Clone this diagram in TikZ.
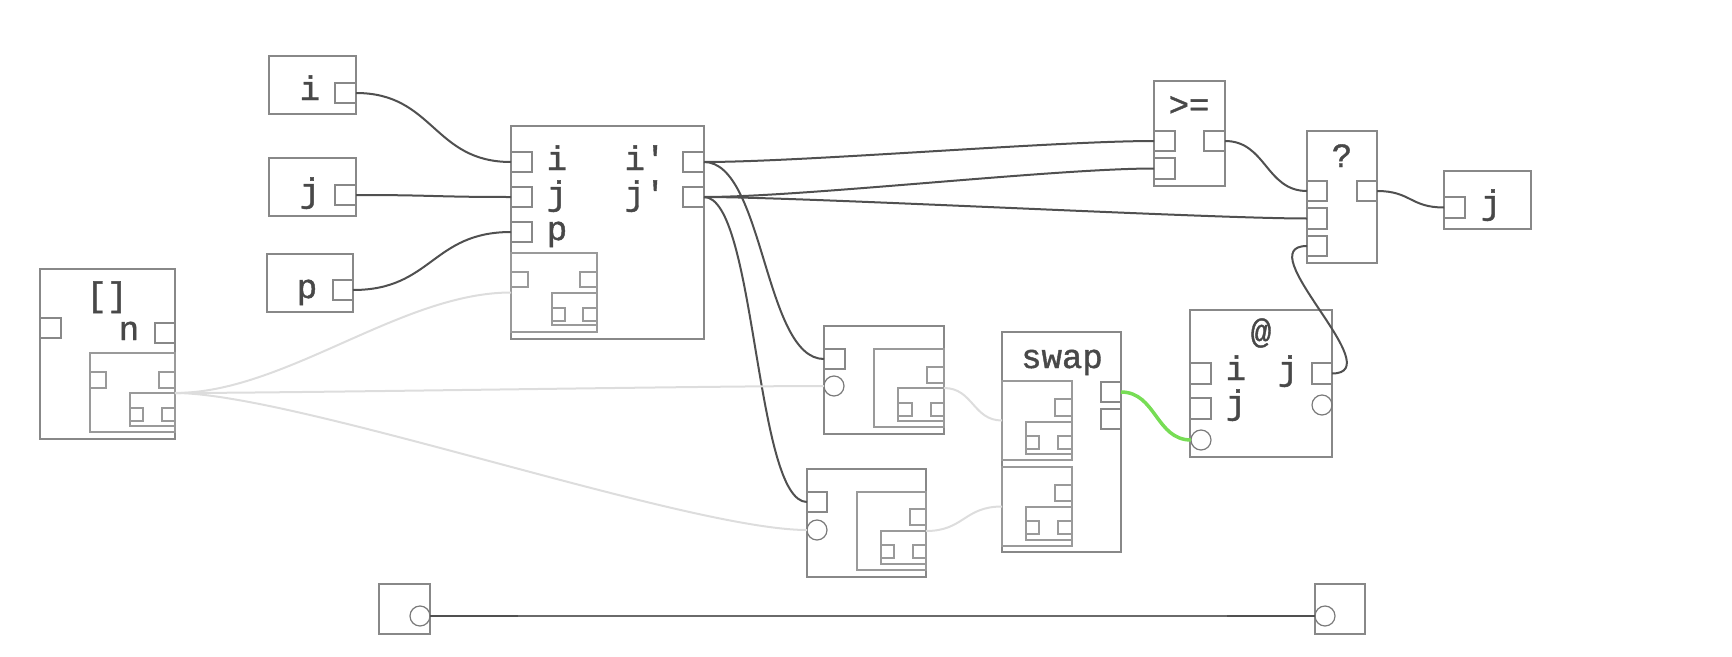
\documentclass[tikz,border=0pt]{standalone}
\usepackage{fontspec}
\setmonofont[FakeBold=1.2]{Liberation Mono}
\usetikzlibrary{calc}
\definecolor{edgec}{HTML}{888888}
\definecolor{inedgec}{HTML}{9A9A9A}
\definecolor{wirec}{HTML}{505050}
\definecolor{lwirec}{HTML}{DDDDDD}
\definecolor{gwirec}{HTML}{77DD55}
\definecolor{txtc}{HTML}{484848}
\tikzset{
 box/.style={draw=edgec, line width=1.5pt},
 inbox/.style={draw=inedgec, line width=1.3pt},
 port/.style={draw=edgec, line width=1.3pt},
 sport/.style={draw=inedgec, line width=1.1pt},
 circ/.style={draw=edgec!90!black, line width=1.2pt, circle, minimum size=20pt, inner sep=0, outer sep=0},
 wire/.style={draw=wirec, line width=2pt},
 lwire/.style={draw=lwirec, line width=2pt},
 gwire/.style={draw=gwirec, line width=3.5pt},
 lab/.style={text=txtc, font=\ttfamily\fontsize{34}{40}\selectfont, anchor=base, inner sep=0},
}
\newcommand\bx[6][]{\node[#1, inner sep=0, outer sep=0, anchor=north west, minimum width={(#5-#3)*1pt}, minimum height={(#6-#4)*1pt}] (#2) at (#3,#4) {};}
\begin{document}
\begin{tikzpicture}[x=1pt,y=-1pt]
\useasboundingbox (0,0) rectangle (1732,656);
% input boxes
\bx[box]{ibox}{269}{56}{356}{114}
\bx[port]{ip}{335}{83}{356}{103}
\node[lab] (ti) at (310,100) {i};
\bx[box]{jbox}{269}{158}{356}{216}
\bx[port]{jp}{335}{185}{356}{205}
\node[lab] (tj) at (310,202) {j};
\bx[box]{pbox}{267}{254}{353}{312}
\bx[port]{pp}{333}{280}{353}{300}
\node[lab] (tp) at (307,298) {p};
% [] box
\bx[box]{arr}{40}{269}{175}{439}
\bx[port]{arrL}{40}{318}{61}{338}
\bx[port]{arrR}{155}{323}{175}{343}
\node[lab] (tarr) at (107,306) {[]};
\node[lab] (tn) at (129,340) {n};
\bx[inbox]{arrin}{90}{353}{175}{432}
\bx[sport]{arrinL}{90}{372}{106}{388}
\bx[sport]{arrinR}{159}{372}{175}{388}
\bx[inbox]{arrii}{130}{393}{175}{426}
\bx[sport]{arriiL}{130}{408}{143}{421}
\bx[sport]{arriiR}{162}{408}{175}{421}
% main box
\bx[box]{main}{511}{126}{704}{339}
\bx[port]{mi}{511}{152}{532}{172}
\bx[port]{mj}{511}{187}{532}{207}
\bx[port]{mp}{511}{222}{532}{242}
\bx[port]{mio}{683}{152}{704}{172}
\bx[port]{mjo}{683}{187}{704}{207}
\node[lab] (tmi) at (557,170) {i};
\node[lab] (tmj) at (557,205) {j};
\node[lab] (tmp) at (557,240) {p};
\node[lab] (tmio) at (645,170) {i'};
\node[lab] (tmjo) at (645,205) {j'};
\bx[inbox]{min}{511}{253}{597}{332}
\bx[sport]{minL}{511}{272}{528}{287}
\bx[sport]{minR}{580}{272}{597}{287}
\bx[inbox]{mii}{552}{293}{597}{325}
\bx[sport]{miiL}{552}{308}{565}{321}
\bx[sport]{miiR}{583}{308}{597}{321}
% box A
\bx[box]{A}{824}{326}{944}{434}
\bx[port]{Ap}{824}{349}{845}{369}
\node[circ] (Acirc) at (834,386) {};
\bx[inbox]{Ain}{874}{349}{944}{427}
\bx[sport]{AinR}{927}{367}{944}{383}
\bx[inbox]{Aii}{898}{388}{944}{421}
\bx[sport]{AiiL}{898}{403}{912}{416}
\bx[sport]{AiiR}{931}{403}{944}{416}
% box B
\bx[box]{B}{807}{469}{926}{577}
\bx[port]{Bp}{807}{492}{827}{512}
\node[circ] (Bcirc) at (817,530) {};
\bx[inbox]{Bin}{857}{492}{926}{570}
\bx[sport]{BinR}{910}{509}{926}{525}
\bx[inbox]{Bii}{881}{531}{926}{564}
\bx[sport]{BiiL}{881}{545}{894}{558}
\bx[sport]{BiiR}{913}{545}{926}{558}
% swap
\bx[box]{swap}{1002}{332}{1121}{552}
\node[lab] (tswap) at (1062,368) {swap};
\bx[port]{sw1}{1101}{382}{1121}{402}
\bx[port]{sw2}{1101}{409}{1121}{429}
\bx[inbox]{si1}{1002}{381}{1072}{460}
\bx[sport]{si1R}{1055}{399}{1072}{416}
\bx[inbox]{si1i}{1026}{422}{1072}{454}
\bx[sport]{si1iL}{1026}{436}{1039}{449}
\bx[sport]{si1iR}{1058}{436}{1072}{449}
\bx[inbox]{si2}{1002}{467}{1072}{546}
\bx[sport]{si2R}{1055}{485}{1072}{501}
\bx[inbox]{si2i}{1026}{507}{1072}{540}
\bx[sport]{si2iL}{1026}{521}{1039}{534}
\bx[sport]{si2iR}{1058}{521}{1072}{534}
% >=
\bx[box]{ge}{1154}{81}{1225}{186}
\node[lab] (tge) at (1189,116) {>=};
\bx[port]{ge1}{1154}{131}{1175}{151}
\bx[port]{ge2}{1154}{158}{1175}{179}
\bx[port]{geo}{1204}{131}{1225}{151}
% ?
\bx[box]{q}{1307}{131}{1377}{263}
\node[lab] (tq) at (1342,167) {?};
\bx[port]{q1}{1307}{181}{1327}{201}
\bx[port]{q2}{1307}{208}{1327}{229}
\bx[port]{q3}{1307}{236}{1327}{256}
\bx[port]{qo}{1357}{181}{1377}{201}
% j out
\bx[box]{jout}{1444}{171}{1531}{229}
\bx[port]{joutp}{1444}{197}{1465}{218}
\node[lab] (tjout) at (1491,214) {j};
% @
\bx[box]{at}{1190}{310}{1332}{457}
\node[lab] (tat) at (1261,343) {@};
\bx[port]{at1}{1190}{363}{1211}{384}
\bx[port]{at2}{1190}{398}{1211}{419}
\bx[port]{ato}{1312}{363}{1332}{384}
\node[circ] (atrc) at (1322,405) {};
\node[circ] (atlc) at (1201,440) {};
\node[lab] (tati) at (1236,380) {i};
\node[lab] (tatj) at (1236,414) {j};
\node[lab] (tatjo) at (1288,380) {j};
% bottom pair
\bx[box]{lb}{379}{584}{430}{634}
\node[circ] (lc) at (420,616) {};
\bx[box]{rb}{1315}{584}{1365}{634}
\node[circ] (rc) at (1325,616) {};
% wires
\draw[wire] (ip.east) .. controls +(78,0) and +(-78,0) .. (mi.west);
\draw[wire] (jp.east) .. controls +(78,0) and +(-78,0) .. (mj.west);
\draw[wire] (pp.east) .. controls +(79,0) and +(-79,0) .. (mp.west);
\draw[wire] (mio.east) .. controls +(100,0) and +(-100,0) .. (ge1.west);
\draw[wire] (mio.east) .. controls +(60,0) and +(-60,0) .. (Ap.west);
\draw[wire] (mjo.east) .. controls +(100,0) and +(-100,0) .. (ge2.west);
\draw[wire] (mjo.east) .. controls +(100,0) and +(-100,0) .. (q2.west);
\draw[wire] (mjo.east) .. controls +(52,0) and +(-52,0) .. (Bp.west);
\draw[wire] (geo.east) .. controls +(41,0) and +(-41,0) .. (q1.west);
\draw[wire] (qo.east) .. controls +(34,0) and +(-34,0) .. (joutp.west);
\draw[wire] (q3.west) .. controls +(-60,0) and +(60,0) .. (ato.east);
\draw[lwire] (arrii.north east) .. controls +(110,0) and +(-110,0) .. (min.west);
\draw[lwire] (arrii.north east) .. controls +(120,0) and +(-120,0) .. (Acirc.west);
\draw[lwire] (arrii.north east) .. controls +(120,0) and +(-120,0) .. (Bcirc.west);
\draw[lwire] (Aii.north east) .. controls +(29,0) and +(-29,0) .. (si1.west);
\draw[lwire] (Bii.north east) .. controls +(38,0) and +(-38,0) .. (si2.west);
\draw[gwire] (sw1.east) .. controls +(35,0) and +(-35,0) .. (atlc.west);
\draw[wire] (lc.east) -- (rc.west);
\draw[white, line width=2.4pt] ($(lc.east)+(90,0)$) -- ($(rc.west)+(-90,0)$);
\draw[draw=wirec!85!white, line width=1.6pt] ($(lc.east)+(88,0)$) -- ($(rc.west)+(-88,0)$);
\end{tikzpicture}
\end{document}
